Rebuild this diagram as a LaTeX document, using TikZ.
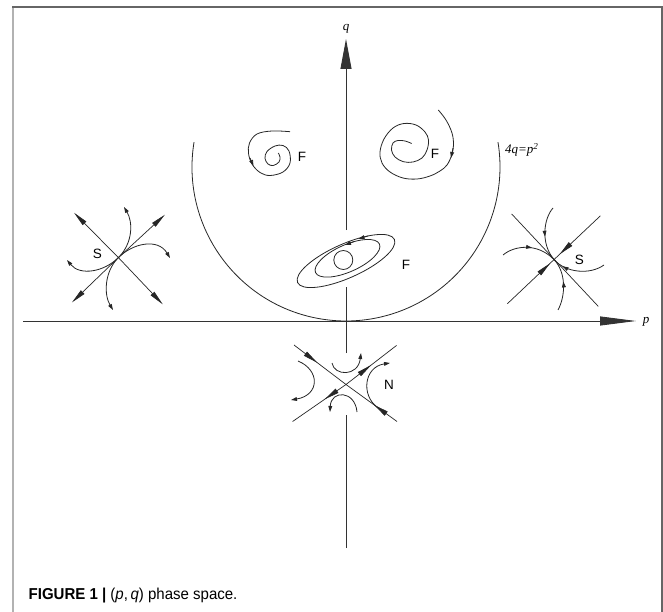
\documentclass[tikz,border=0pt]{standalone}
\usepackage{fontspec}
\setmainfont{Liberation Serif}
\newfontfamily\capfont{Liberation Sans}
\newfontfamily\capcond[FakeStretch=0.95]{Liberation Sans}
\usetikzlibrary{arrows.meta,decorations.markings,calc}
\tikzset{
  axisline/.style={line width=0.9pt,draw=black!80},
  traj/.style={line width=0.8pt,draw=black!85},
  sepline/.style={line width=0.7pt,draw=black!85},
  endtip/.style={-{Triangle[length=6pt,width=3.8pt]}},
  bigend/.style={-{Triangle[length=15pt,width=5pt]}},
  marr/.style={postaction={decorate},decoration={markings,mark=at position #1 with {\arrow{Triangle[length=6pt,width=3.8pt]}}}},
  bigmarr/.style={postaction={decorate},decoration={markings,mark=at position #1 with {\arrow{Triangle[length=15pt,width=5pt]}}}},
  lab/.style={font=\capfont\fontsize{13.5}{15}\selectfont,inner sep=0pt},
  axlab/.style={font=\fontsize{13}{15}\selectfont\itshape,inner sep=0pt},
}
\begin{document}
\begin{tikzpicture}[x=1pt,y=-1pt]
\useasboundingbox (0,0) rectangle (663,612);
% frame
\draw[line width=2pt,draw=black!30] (13,7) -- (13,612);
\draw[line width=1.3pt,draw=black!60] (12,7) -- (662,7) -- (662,612);

% axes
\coordinate (O) at (346,321);
\draw[axisline,-{Triangle[length=36pt,width=9pt]}] (23,321) -- (636,321);
\draw[axisline] (346,548) -- (346,414.5);
\draw[axisline] (346,353) -- (346,287);
\draw[axisline,-{Triangle[length=30pt,width=11pt]}] (346,230) -- (346,39);
\node[axlab] (ql) at (346,29) {q};
\node[axlab] (pl) at (646,322) {p};

% U-shaped curve 4q=p^2
\coordinate (U) at (346,167);
\draw[traj] ($(U)+(189.3:154)$) arc[start angle=189.3,end angle=-9.3,radius=154];
\node[font=\fontsize{13}{15}\selectfont\itshape,inner sep=0pt,anchor=west] (par) at (505,150) {4q=p\textsuperscript{2}};

% left spiral F
\draw[traj] plot[smooth,tension=0.6] coordinates {(290,131.7) (272,131) (257,134) (249.5,143) (248.5,153.3) (252,164) (260,172.5) (270,175.5) (283,172) (290,163) (289,151) (283,145.5) (275,146) (267,151.5) (265,158.3) (268,164) (273.3,165.5) (279,162) (280,157) (278.3,153)};
\draw[traj,endtip] (250,158) -- (253.5,166);
\node[lab] (F1) at (302,156.5) {F};

% right spiral F
\draw[traj] plot[smooth,tension=0.6] coordinates {(438.3,110) (446,120) (452,133) (453.5,145) (451.7,155) (447,165) (440,171) (430,176) (417,179) (403,178) (390,172) (382,163) (380,152) (384,139) (393,128) (404,123.5) (416,125) (425,132) (428.5,140) (427,150) (422,158) (413,162) (403.3,161.7) (395,157) (391.5,150) (393,143) (398,140.5) (405,141) (411.7,143.5)};
\draw[traj,endtip] (453,148) -- (451,158);
\node[lab] (F2) at (435,154) {F};

% ellipses F
\coordinate (E1) at (346,261);
\coordinate (E2) at (347.5,258.3);
\coordinate (E3) at (343.3,260);
\draw[traj,rotate around={24:(E1)}] (E1) ellipse[x radius=53,y radius=17];
\draw[traj,rotate around={24:(E2)}] (E2) ellipse[x radius=35,y radius=13.5];
\draw[traj] (E3) circle[radius=9.5];
\draw[traj,endtip] (368,236) -- (358.5,238.8);
\draw[traj,endtip] (354,241.6) -- (345,245);
\node[lab] (F3) at (406,265) {F};

% left node S
\coordinate (SL) at (118.4,257.6);
\coordinate (SLa) at (74,212.7);
\coordinate (SLb) at (162.8,304.4);
\coordinate (SLc) at (71.9,302.5);
\coordinate (SLd) at (164.9,214.7);
\draw[sepline,bigend] (SL) -- (SLa);
\draw[sepline,bigend] (SL) -- (SLb);
\draw[sepline,bigend] (SL) -- (SLc);
\draw[sepline,bigend] (SL) -- (SLd);
\draw[traj,endtip] (SL) .. controls (133,243) and (133,222) .. (124,207);
\draw[traj,endtip] (SL) .. controls (133,243) and (158,238) .. (170,258);
\draw[traj,endtip] (SL) .. controls (104,272) and (80,276) .. (67,260);
\draw[traj,endtip] (SL) .. controls (104,272) and (104,295) .. (113,310);
\node[lab] (S1) at (97.3,253.7) {S};

% right node S
\coordinate (SR) at (554,259.6);
\coordinate (SRa) at (511.6,213.9);
\coordinate (SRb) at (598.3,306.4);
\coordinate (SRc) at (507.4,303.7);
\coordinate (SRd) at (600.4,215.8);
\draw[sepline] (SRa) -- (SRb);
\draw[sepline,bigmarr=0.88] (SRd) -- (SR);
\draw[sepline,bigmarr=0.92] (SRc) -- (SR);
\draw[traj,marr=0.55] (553,208) .. controls (544,218) and (540,243) .. (SR);
\draw[traj,marr=0.55] (503,255) .. controls (515,245) and (538,243) .. (SR);
\draw[traj,marr=0.8] (604,265) .. controls (590,275) and (566,273) .. (SR);
\draw[traj,marr=0.55] (558,310) .. controls (566,295) and (566,272) .. (SR);
\node[lab] (S2) at (579.3,259.6) {S};

% saddle N
\coordinate (NC) at (346,384.5);
\coordinate (Na) at (294,345);
\coordinate (Nb) at (397,421.5);
\coordinate (Nc) at (292.6,421.5);
\coordinate (Nd) at (396.6,345.4);
\draw[sepline,bigmarr=0.45] (Na) -- (NC);
\draw[sepline,bigmarr=0.45] (Nb) -- (NC);
\draw[sepline,bigmarr=0.5] (NC) -- (Nd);
\draw[sepline,bigmarr=0.4] (NC) -- (Nc);
\draw[traj,endtip] (332,363) .. controls (334,376) and (358,377) .. (361,353);
\draw[traj,endtip] (357,412) .. controls (355,390) and (331,390) .. (330,412);
\draw[traj,endtip] (298,361) .. controls (320,370) and (320,395) .. (291,400);
\draw[traj,endtip] (377,407) .. controls (361,395) and (364,367) .. (390,363);
\node[lab] (N1) at (389,384.5) {N};

% caption
\node[font=\capcond\fontsize{15.8}{18}\selectfont,inner sep=0pt,anchor=base west] (cap) at (28.5,599.5) {\textbf{FIGURE 1} {\bfseries|} (\textit{p},\,\textit{q}) phase space.};
\end{tikzpicture}
\end{document}
